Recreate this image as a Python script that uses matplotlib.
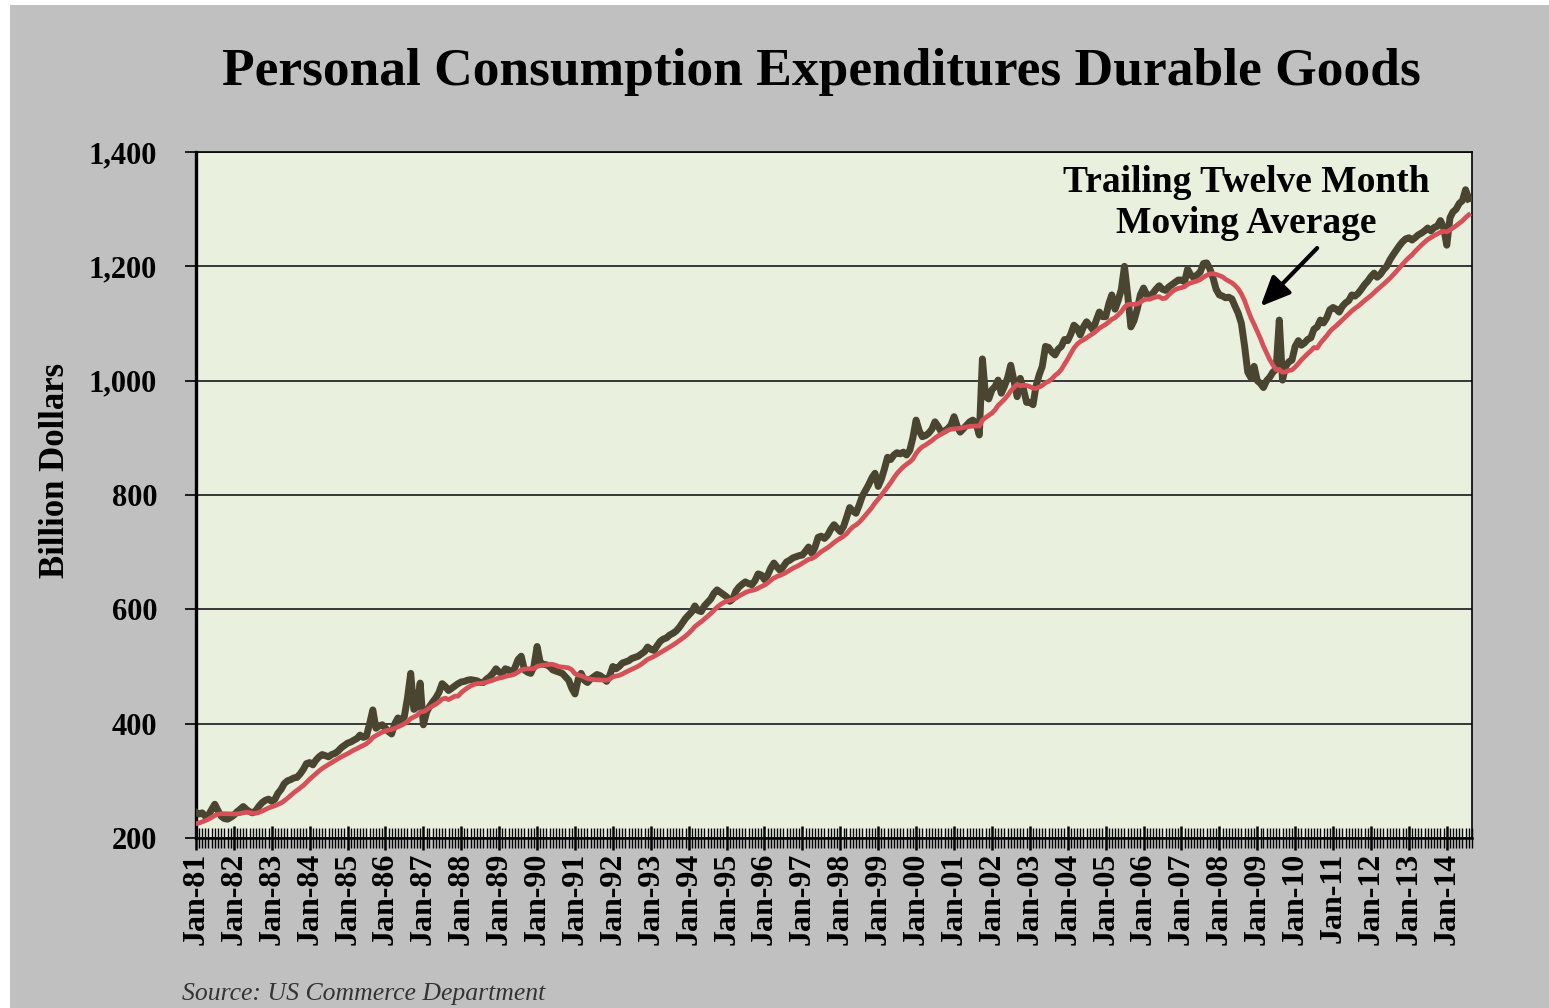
import numpy as np
import pandas as pd
import matplotlib
matplotlib.use("Agg")
import matplotlib.pyplot as plt
import matplotlib.dates as mdates
from matplotlib.ticker import FuncFormatter, MultipleLocator

plt.rcParams['font.family'] = ['Liberation Serif', 'DejaVu Serif']

# Monthly personal consumption expenditures on durable goods, billion dollars
# 1980 is only the lead-in for the trailing twelve month average, it is not drawn
pce_1980 = [228, 226, 221, 214, 209, 212, 218, 224, 228, 232, 234, 238]

pce_1980s = [
    245, 242, 244, 238, 240, 250, 259, 248, 238, 234, 233, 236,  # 1981
    240, 246, 250, 255, 250, 246, 244, 248, 256, 262, 266, 268,  # 1982
    264, 268, 278, 285, 295, 300, 302, 305, 306, 312, 320, 330,  # 1983
    332, 328, 336, 342, 346, 344, 342, 346, 348, 352, 358, 362,  # 1984
    366, 368, 371, 374, 380, 376, 378, 400, 424, 392, 396, 398,  # 1985
    392, 386, 382, 400, 410, 406, 412, 445, 488, 425, 430, 471,  # 1986
    398, 420, 430, 438, 445, 455, 470, 465, 458, 462, 466, 470,  # 1987
    473, 474, 476, 477, 476, 475, 472, 472, 478, 482, 488, 496,  # 1988
    490, 488, 496, 494, 488, 498, 512, 518, 494, 490, 488, 500,  # 1989
]

pce_1990s = [
    535, 506, 504, 503, 500, 494, 492, 490, 488, 482, 476, 462,  # 1990
    452, 478, 488, 476, 472, 478, 482, 486, 484, 480, 474, 484,  # 1991
    500, 496, 500, 506, 508, 510, 514, 516, 518, 522, 526, 534,  # 1992
    530, 528, 536, 544, 548, 550, 555, 558, 562, 568, 576, 584,  # 1993
    590, 596, 606, 598, 596, 606, 612, 618, 628, 634, 630, 626,  # 1994
    622, 614, 618, 632, 639, 644, 648, 645, 643, 650, 662, 660,  # 1995
    652, 660, 672, 681, 674, 668, 675, 683, 686, 690, 692, 694,  # 1996
    695, 702, 709, 698, 708, 726, 728, 724, 730, 740, 748, 742,  # 1997
    736, 745, 760, 778, 772, 768, 782, 798, 808, 818, 830, 838,  # 1998
    815, 828, 845, 866, 862, 870, 874, 872, 875, 870, 878, 900,  # 1999
]

pce_2000s = [
    931, 912, 902, 904, 908, 915, 928, 920, 910, 912, 916, 922,  # 2000
    937, 920, 910, 916, 922, 928, 931, 925, 905, 1038, 972, 968,  # 2001
    984, 990, 1001, 978, 990, 1005, 1027, 1000, 972, 1004, 985, 962,  # 2002
    962, 958, 990, 1010, 1025, 1060, 1058, 1050, 1045, 1055, 1060, 1072,  # 2003
    1070, 1082, 1097, 1092, 1080, 1094, 1103, 1096, 1089, 1105, 1120, 1112,  # 2004
    1112, 1135, 1150, 1125, 1140, 1160, 1200, 1150, 1094, 1105, 1125, 1150,  # 2005
    1162, 1150, 1148, 1153, 1160, 1166, 1160, 1158, 1164, 1168, 1172, 1176,  # 2006
    1176, 1173, 1195, 1185, 1180, 1185, 1190, 1205, 1206, 1196, 1180, 1160,  # 2007
    1150, 1148, 1145, 1146, 1143, 1130, 1118, 1100, 1060, 1015, 1005, 1025,  # 2008
    1000, 995, 988, 1000, 1006, 1015, 1020, 1106, 1001, 1025, 1033, 1036,  # 2009
]

pce_2010s = [
    1060, 1070, 1062, 1066, 1072, 1075, 1090, 1094, 1106, 1101, 1110, 1124,  # 2010
    1128, 1125, 1120, 1130, 1136, 1140, 1150, 1148, 1153, 1160, 1168, 1174,  # 2011
    1182, 1188, 1181, 1186, 1194, 1200, 1211, 1220, 1228, 1236, 1243, 1248,  # 2012
    1250, 1246, 1250, 1255, 1258, 1262, 1267, 1262, 1268, 1270, 1280, 1268,  # 2013
    1237, 1285, 1295, 1300, 1310, 1315, 1334, 1318,  # 2014
]

y_ticks = [200, 400, 600, 800, 1000, 1200, 1400]

# Build the monthly series and the trailing twelve month moving average
values = pce_1980 + pce_1980s + pce_1990s + pce_2000s + pce_2010s
months = pd.date_range('1980-01-01', periods=len(values), freq='MS')
monthly = pd.Series(values, index=months, dtype=float)
ttm = monthly.rolling(12).mean()
monthly = monthly['1981':]
ttm = ttm['1981':]

W, H = 1549, 1008
fig = plt.figure(figsize=(W / 100, H / 100), dpi=100, facecolor='white')

# Gray panel behind everything
fig.patches.append(plt.Rectangle((10 / W, 0), 1, 1 - 5 / H, transform=fig.transFigure,
                                 facecolor='#c0c0c0', edgecolor='none', zorder=-10))

ax = fig.add_axes([196 / W, 1 - 838 / H, (1472 - 196) / W, (838 - 152) / H])
ax.set_facecolor('#eaf0de')

# Lines
ax.plot(monthly.index, monthly.values, color='#4a4530', lw=5.0, solid_joinstyle='round', zorder=3)
ax.plot(ttm.index, ttm.values, color='#d65058', lw=3.4, zorder=4)

# Axes limits and grid
ax.set_xlim(monthly.index[0], monthly.index[-1] + pd.DateOffset(months=1))
ax.set_ylim(y_ticks[0], y_ticks[-1])
ax.set_yticks(y_ticks)
ax.yaxis.set_major_formatter(FuncFormatter(lambda v, p: f'{v:,.0f}'))
ax.yaxis.grid(True, color='#2a2a2a', lw=1.3)
ax.set_axisbelow(True)

ax.xaxis.set_major_locator(mdates.YearLocator())
ax.xaxis.set_minor_locator(mdates.MonthLocator())
ax.xaxis.set_major_formatter(mdates.DateFormatter('%b-%y'))

ax.tick_params(axis='x', which='major', direction='inout', length=17, width=1.8,
               pad=2, labelsize=23, colors='black', labelrotation=90)
ax.tick_params(axis='x', which='minor', direction='inout', length=15, width=1.0, colors='black')
ax.tick_params(axis='y', which='major', direction='out', length=8, width=1.2,
               pad=20, labelsize=22)
for lab in ax.get_xticklabels() + ax.get_yticklabels():
    lab.set_fontweight('bold')

ax.spines['left'].set_linewidth(2.4)
ax.spines['bottom'].set_linewidth(1.8)
ax.spines['top'].set_linewidth(1.2)
ax.spines['right'].set_linewidth(1.2)
for s in ax.spines.values():
    s.set_color('black')

# Texts
fig.text(821 / W, 1 - 85 / H, 'Personal Consumption Expenditures Durable Goods',
         ha='center', va='baseline', fontsize=38.5, fontweight='bold')
fig.text(55 / W, 1 - 470 / H, 'Billion Dollars', rotation=90, ha='center', va='center',
         fontsize=25, fontweight='bold')
fig.text(1246 / W, 1 - 203 / H, 'Trailing Twelve Month\nMoving Average', ha='center',
         va='center', fontsize=27, fontweight='bold', linespacing=1.2)
fig.text(182 / W, 1 - 1000 / H, 'Source: US Commerce Department', ha='left', va='baseline',
         fontsize=18.5, style='italic', color='#333333')

# Arrow pointing at the moving average line
ax.annotate('', xy=(mdates.date2num(pd.Timestamp('2009-02-01')), 1130),
            xytext=(mdates.date2num(pd.Timestamp('2010-08-01')), 1232),
            arrowprops=dict(arrowstyle='-|>,head_length=0.9,head_width=0.4', lw=3,
                            color='black', mutation_scale=20, shrinkA=0, shrinkB=0),
            zorder=6)

fig.savefig('out.png', dpi=100, facecolor=fig.get_facecolor())
